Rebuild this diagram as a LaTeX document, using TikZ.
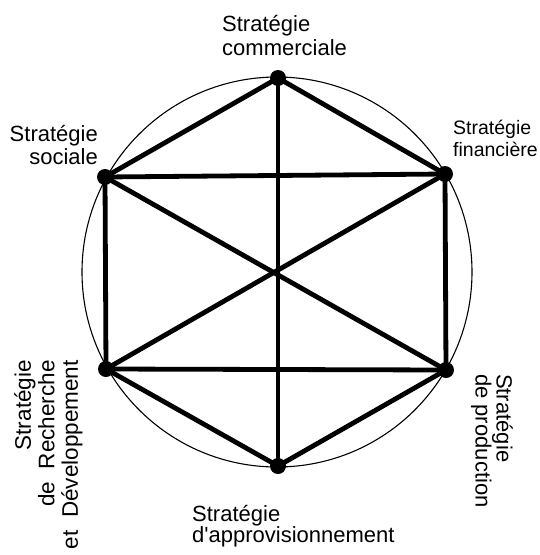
\documentclass[tikz,border=0pt]{standalone}
\usepackage{fontspec}
\setmainfont{Liberation Sans}[Ligatures=TeXOff]
\begin{document}
\begin{tikzpicture}[x=1pt,y=-1pt,
  vdot/.style={circle,fill=black,inner sep=0pt,minimum size=16pt},
  edge/.style={line width=4.8pt,line cap=round,black},
  ring/.style={circle,draw=black,line width=1.1pt,inner sep=0pt,minimum size=390pt},
  lbl/.style={inner sep=0pt,font=\fontsize{22}{23}\selectfont}]
\useasboundingbox[fill=white] (0,0) rectangle (539,555);
% ring
\node[ring] (circ) at (277,272) {};
% vertices
\coordinate (T)  at (278,78);
\coordinate (UR) at (445,174);
\coordinate (LR) at (446,370);
\coordinate (B)  at (278,466);
\coordinate (LL) at (106,369);
\coordinate (UL) at (105,177);
% edges
\draw[edge] (T) -- (UR);
\draw[edge] (UR) -- (LR);
\draw[edge] (LR) -- (B);
\draw[edge] (B) -- (LL);
\draw[edge] (LL) -- (UL);
\draw[edge] (UL) -- (T);
\draw[edge] (UL) -- (UR);
\draw[edge] (LL) -- (LR);
\draw[edge] (T) -- (B);
\draw[edge] (UL) -- (LR);
\draw[edge] (UR) -- (LL);
% dots
\node[vdot] (dT)  at (T)  {};
\node[vdot] (dUR) at (UR) {};
\node[vdot] (dLR) at (LR) {};
\node[vdot] (dB)  at (B)  {};
\node[vdot] (dLL) at (LL) {};
\node[vdot] (dUL) at (UL) {};
% labels
\node[lbl,anchor=north west,align=left,font=\fontsize{22}{24}\selectfont] (lT) at (222,15) {Stratégie\\commerciale};
\node[lbl,anchor=north east,align=right] (lUL) at (98,125) {Stratégie\\sociale};
\node[lbl,anchor=north west,align=left,font=\fontsize{19.5}{22}\selectfont] (lUR) at (453,120) {Stratégie\\financière};
\node[lbl,anchor=north west,align=left,font=\fontsize{22}{21}\selectfont] (lB) at (192,505) {Stratégie\\d'approvisionnement};
\node[lbl,anchor=north west,align=left,rotate=-90,font=\fontsize{22}{21}\selectfont] (lLR) at (513,374) {Stratégie\\de production};
\node[lbl,anchor=north east,align=right,rotate=90,font=\fontsize{22.5}{23.5}\selectfont] (lLL) at (14,360) {Stratégie\\de~~Recherche\\et~~Développement};
\end{tikzpicture}
\end{document}
